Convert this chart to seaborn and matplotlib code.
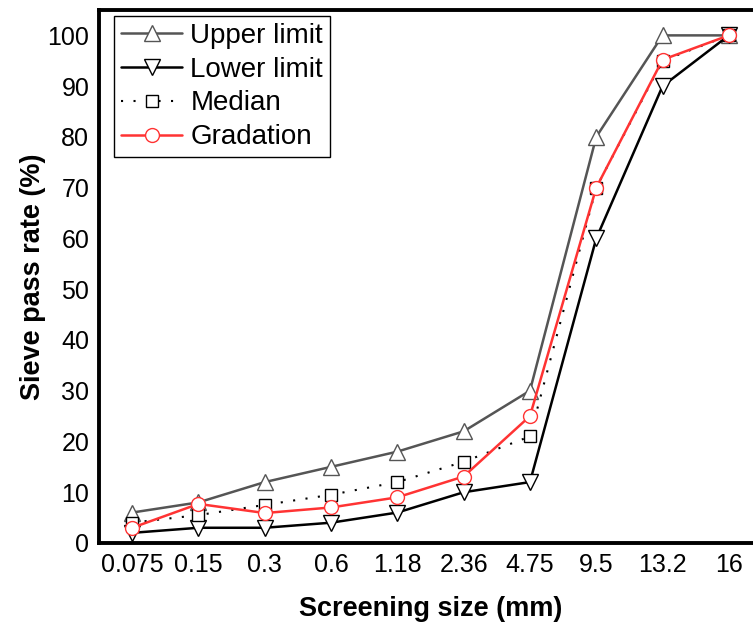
import numpy as np
import pandas as pd
import matplotlib
matplotlib.use("Agg")
import matplotlib.pyplot as plt
import seaborn as sns

sizes = ["0.075", "0.15", "0.3", "0.6", "1.18", "2.36", "4.75", "9.5", "13.2", "16"]
upper = [6, 8, 12, 15, 18, 22, 30, 80, 100, 100]
lower = [2, 3, 3, 4, 6, 10, 12, 60, 90, 100]
median = [4, 5.5, 7.5, 9.5, 12, 16, 21, 70, 95, 100]
gradation = [3, 7.7, 5.9, 7, 9, 13.1, 25, 70, 95.2, 100]

sns.set_theme(style="white")
plt.rcParams['font.family'] = ['Liberation Sans', 'DejaVu Sans']
plt.rcParams['text.color'] = 'black'
plt.rcParams['axes.labelcolor'] = 'black'

W, H = 753, 630
fig = plt.figure(figsize=(W / 100, H / 100), dpi=100)
ax = fig.add_axes([99 / W, (H - 543) / H, 663 / W, (543 - 10) / H])

pos = np.arange(len(sizes))
df = pd.DataFrame({"pos": pos, "upper": upper, "lower": lower,
                   "median": median, "gradation": gradation})

sns.lineplot(data=df, x="pos", y="upper", ax=ax, color="#555555", lw=1.8,
             marker="^", markersize=11, markerfacecolor="white",
             markeredgecolor="#555555", markeredgewidth=1.0, label="Upper limit")
sns.lineplot(data=df, x="pos", y="lower", ax=ax, color="black", lw=1.8,
             marker="v", markersize=11, markerfacecolor="white",
             markeredgecolor="black", markeredgewidth=1.0, label="Lower limit")
sns.lineplot(data=df, x="pos", y="median", ax=ax, color="black", lw=1.5,
             linestyle=(0, (1, 5)), marker="s", markersize=9,
             markerfacecolor="white", markeredgecolor="black",
             markeredgewidth=1.0, label="Median")
sns.lineplot(data=df, x="pos", y="gradation", ax=ax, color="#ff3333", lw=1.8,
             marker="o", markersize=10, markerfacecolor="white",
             markeredgecolor="#ff3333", markeredgewidth=1.0, label="Gradation")

ax.set_xlim(-0.5, len(sizes) - 0.5)
ax.set_ylim(0, 105)
ax.set_xticks(pos)
ax.set_xticklabels(sizes)
ax.set_yticks(np.arange(0, 101, 10))
ax.tick_params(axis="both", direction="in", length=7, width=2.5,
               labelsize=18, colors="black", pad=7)
for s in ax.spines.values():
    s.set_linewidth(2.8)
    s.set_color("black")

ax.set_xlabel("Screening size (mm)", fontsize=19.5, fontweight="bold",
              labelpad=14, color="black")
ax.set_ylabel("Sieve pass rate (%)", fontsize=19.5, fontweight="bold",
              labelpad=1, color="black")

leg = ax.legend(loc="upper left", bbox_to_anchor=(15 / 663, 1 - 6 / 533),
                fontsize=20, frameon=True, fancybox=False, framealpha=1,
                edgecolor="black", handlelength=2.2, labelspacing=0.28,
                borderpad=0.25, handletextpad=0.3, borderaxespad=0)
leg.get_frame().set_linewidth(1.0)
for t in leg.get_texts():
    t.set_color("black")

fig.savefig("out.png", dpi=100)
